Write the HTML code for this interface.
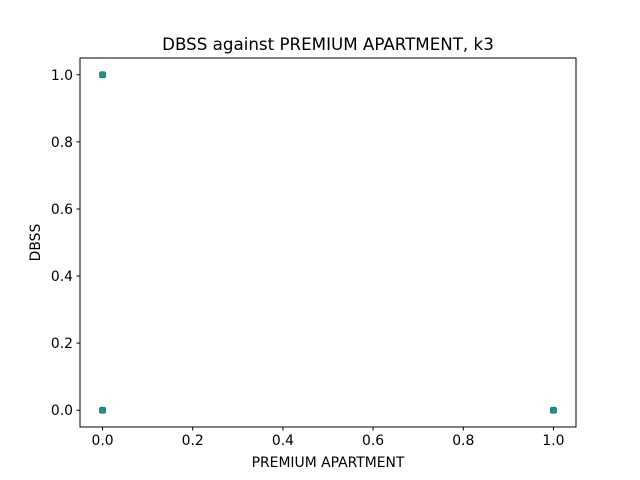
<!DOCTYPE html>
<html><head><meta charset="utf-8"><style>body{margin:0;background:#fff}svg{display:block;font-family:"DejaVu Sans","Liberation Sans",sans-serif}</style></head>
<body>
<svg id="chart" width="640" height="480" viewBox="0 0 640 480">
<rect width="640" height="480" fill="#fff"/>
<text x="328" y="50" font-size="16.7" text-anchor="middle">DBSS against PREMIUM APARTMENT, k3</text>
<g id="xticks"></g><g id="yticks"></g><g id="points"></g>
<rect x="80" y="58" width="496" height="369" fill="none" stroke="#000" stroke-width="1"/>
<text x="328" y="467" font-size="13.9" text-anchor="middle">PREMIUM APARTMENT</text>
<text transform="translate(40,242.5) rotate(-90)" font-size="13.9" text-anchor="middle">DBSS</text>
</svg>
<script>
const xValues=[0,0,1];
const yValues=[1,0,0];
const xTicks=[0,0.2,0.4,0.6,0.8,1.0];
const yTicks=[0,0.2,0.4,0.6,0.8,1.0];
const ns="http://www.w3.org/2000/svg";
const X=v=>80+(v+0.05)/1.1*496;
const Y=v=>427-(v+0.05)/1.1*369;
function mk(t,a){const e=document.createElementNS(ns,t);for(const k in a)e.setAttribute(k,a[k]);return e;}
const xg=document.getElementById('xticks');
xTicks.forEach(t=>{
 const l=mk('line',{x1:X(t),x2:X(t),y1:427,y2:430.5,stroke:'#000'});
 
 
 xg.appendChild(l);
 const s=mk('text',{x:X(t),y:445,'font-size':13.9,'text-anchor':'middle'});
 
 
 s.textContent=t.toFixed(1);xg.appendChild(s);
});
const yg=document.getElementById('yticks');
yTicks.forEach(t=>{
 const l=mk('line',{x1:76.5,x2:80,y1:Y(t),y2:Y(t),stroke:'#000'});
 
 
 yg.appendChild(l);
 const s=mk('text',{x:73,y:Y(t)+5,'font-size':13.9,'text-anchor':'end'});
 
 
 s.textContent=t.toFixed(1);yg.appendChild(s);
});
const pg=document.getElementById('points');
xValues.forEach((v,i)=>{
 const c=mk('rect',{x:X(v)-3,y:Y(yValues[i])-3,width:6,height:6,rx:1.5,fill:'#21918c',stroke:'#1a6f6b','stroke-width':0.8});
 
 
 pg.appendChild(c);
});
</script>
</body></html>
